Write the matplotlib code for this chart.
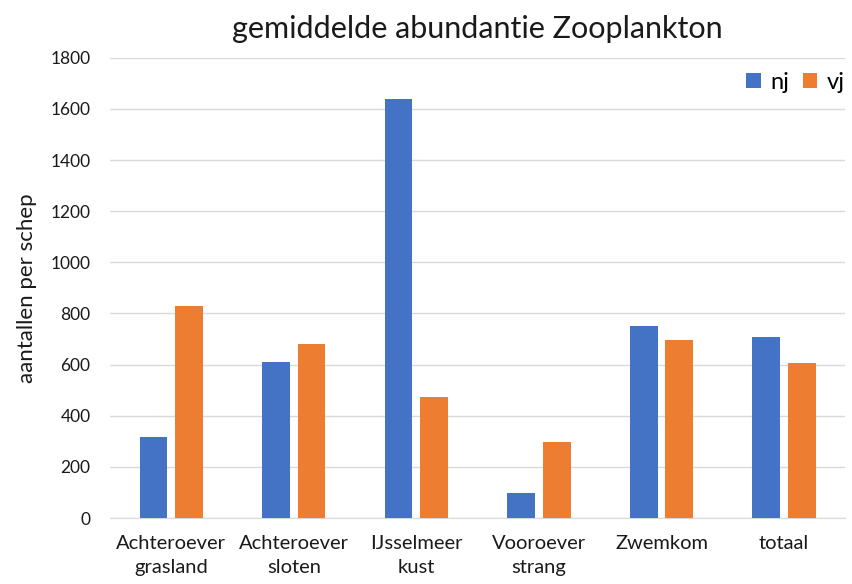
import numpy as np
import matplotlib
matplotlib.use("Agg")
from matplotlib import pyplot as plt

# data
categories = ["Achteroever\ngrasland", "Achteroever\nsloten", "IJsselmeer\nkust",
              "Vooroever\nstrang", "Zwemkom", "totaal"]
nj = [317, 610, 1640, 98, 751, 708]
vj = [829, 681, 473, 297, 696, 606]

plt.rcParams["font.family"] = ["Lato", "DejaVu Sans"]

fig = plt.figure(figsize=(8.53, 5.84), dpi=100)
ax = fig.add_axes([0.129, 0.113, 0.862, 0.788])

x = np.arange(len(categories))
w = 0.225
gap = 0.065
ax.bar(x - (w + gap) / 2, nj, w, color="#4472C4", label="nj", zorder=3)
ax.bar(x + (w + gap) / 2, vj, w, color="#ED7D31", label="vj", zorder=3)

ax.set_xlim(-0.5, len(categories) - 0.5)
ax.set_ylim(0, 1800)
ax.set_yticks(range(0, 1801, 200))
ax.yaxis.grid(True, color="#D9D9D9", linewidth=1, zorder=0)
ax.set_xticks(x)
ax.set_xticklabels(categories, fontsize=14.5, color="#1a1a1a", linespacing=1.5)
ax.tick_params(axis="y", labelsize=12.5, colors="#1a1a1a", length=0, pad=14)
ax.tick_params(axis="x", length=0, pad=12)
for s in ["top", "right", "left"]:
    ax.spines[s].set_visible(False)
ax.spines["bottom"].set_color("#D9D9D9")

ax.set_ylabel("aantallen per schep", fontsize=16, color="#1a1a1a", labelpad=10)
ax.set_title("gemiddelde abundantie Zooplankton", fontsize=22, color="#1a1a1a", pad=14)

ax.legend(loc="upper right", bbox_to_anchor=(1.012, 0.99), ncol=2, frameon=False,
          fontsize=17, handlelength=0.6, handleheight=0.6, handletextpad=0.4,
          columnspacing=0.6, borderaxespad=0)

fig.savefig("out.png", dpi=100)
